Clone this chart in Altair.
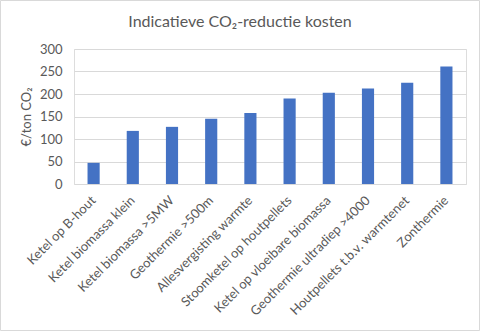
import altair as alt
import pandas as pd

categories = [
    "Ketel op B-hout",
    "Ketel biomassa klein",
    "Ketel biomassa >5MW",
    "Geothermie >500m",
    "Allesvergisting warmte",
    "Stoomketel op houtpellets",
    "Ketel op vloeibare biomassa",
    "Geothermie ultradiep >4000",
    "Houtpellets t.b.v. warmtenet",
    "Zonthermie",
]
values = [47, 118, 127, 145, 158, 190, 203, 212, 225, 261]
y_ticks = [0, 50, 100, 150, 200, 250, 300]

df = pd.DataFrame({"cat": categories, "val": values})

FONT = "Lato"
GREY = "#595959"

bars = (
    alt.Chart(df)
    .mark_bar(color="#4472C4")
    .encode(
        x=alt.X(
            "cat:N",
            sort=categories,
            title=None,
            scale=alt.Scale(paddingInner=0.69, paddingOuter=0.345),
            axis=alt.Axis(
                labelAngle=-45,
                labelAlign="right",
                labelBaseline="middle",
                labelPadding=14,
                ticks=False,
                domain=False,
                labelFont=FONT,
                labelFontSize=13,
                labelColor=GREY,
                labelLimit=300,
            ),
        ),
        y=alt.Y(
            "val:Q",
            title="€/ton CO₂",
            scale=alt.Scale(domain=[0, 300], nice=False),
            axis=alt.Axis(
                values=y_ticks,
                ticks=False,
                domain=False,
                grid=True,
                gridColor="#d9d9d9",
                gridWidth=1,
                labelPadding=12,
                labelFont=FONT,
                labelFontSize=13,
                labelColor=GREY,
                titleFont=FONT,
                titleFontSize=13,
                titleFontWeight="normal",
                titleColor=GREY,
                titleAngle=-90,
                titleX=-48,
                titleY=67.5,
                titleAlign="center",
                titleBaseline="middle",
            ),
        ),
    )
)

frame = (
    alt.Chart(pd.DataFrame({"k": [0]}))
    .mark_rect(fill=None, stroke="#d9d9d9", strokeWidth=1)
    .encode(
        x=alt.value(-73.5),
        x2=alt.value(405.5),
        y=alt.value(-48.5),
        y2=alt.value(281.5),
    )
)

chart = (
    alt.layer(bars, frame)
    .properties(
        width=392,
        height=135,
        title=alt.TitleParams(
            "Indicatieve CO₂-reductie kosten",
            font=FONT,
            fontSize=16,
            fontWeight="normal",
            color=GREY,
            anchor="middle",
            frame="bounds",
            offset=-30,
        ),
        autosize=alt.AutoSizeParams(type="none"),
        padding={"left": 74, "top": 49, "right": 14, "bottom": 147},
    )
    .configure_view(stroke=None)
    .configure(background="white")
)

chart.save("out.html", embed_options={"renderer": "svg", "actions": False})
